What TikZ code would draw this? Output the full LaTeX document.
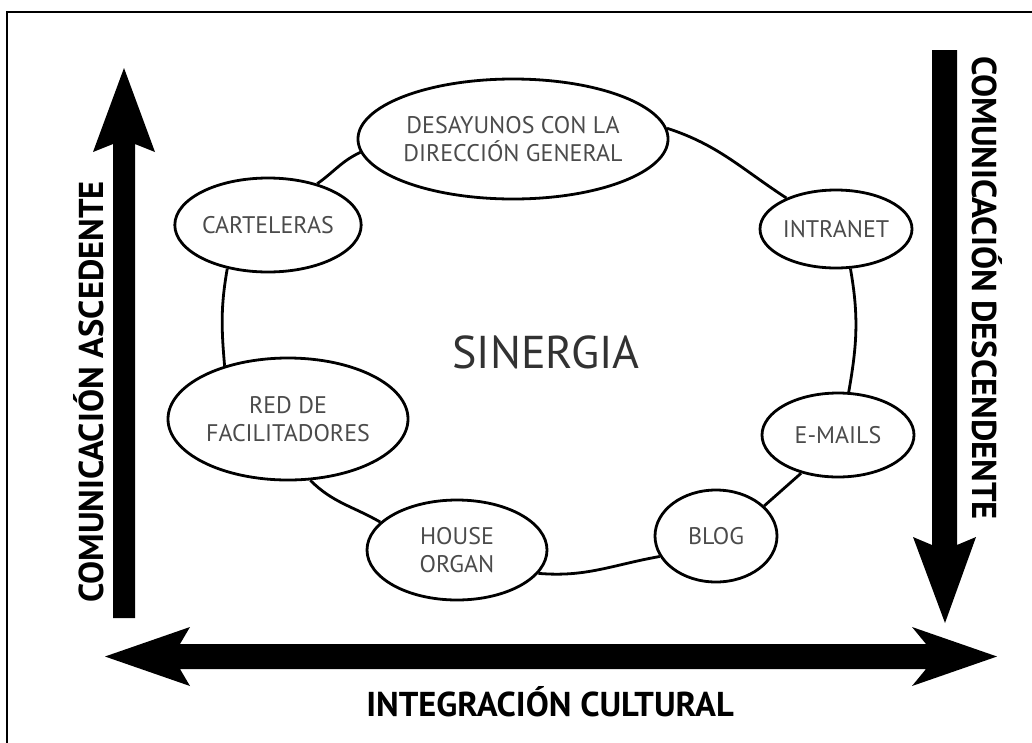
\documentclass[tikz,border=0pt]{standalone}
\usepackage{fontspec}
\setmainfont{PT Sans}
\usetikzlibrary{shapes.geometric}
\definecolor{labgray}{RGB}{75,75,75}
\definecolor{biggray}{RGB}{50,50,50}
\begin{document}
\begin{tikzpicture}[x=1pt,y=1pt,
  bub/.style={ellipse, draw, line width=2.8pt, fill=white, inner sep=0pt, align=center,
    text=labgray, font=\fontsize{24}{28}\selectfont},
  ringline/.style={line width=2.8pt},
  boldlab/.style={font=\bfseries\fontsize{34.5}{38}\selectfont, inner sep=0pt, text=black},
  bigarrow/.style={fill=black}]
\useasboundingbox (0,0) rectangle (1032,-742);
\draw[line width=1.3pt] (7,-12) rectangle (1050,-760);

% bubbles
\node[bub, minimum width=292pt, minimum height=120pt] (desa) at (513,-139) {DESAYUNOS CON LA\\DIRECCIÓN GENERAL};
\node[bub, minimum width=176pt, minimum height=94pt] (cart) at (268,-225) {CARTELERAS};
\node[bub, minimum width=152pt, minimum height=78pt] (intra) at (836,-229) {INTRANET};
\node[bub, minimum width=240pt, minimum height=122pt] (red) at (288,-419) {RED DE\\FACILITADORES};
\node[bub, minimum width=152pt, minimum height=84pt] (emails) at (838,-435) {E-MAILS};
\node[bub, minimum width=122pt, minimum height=92pt] (blog) at (716,-536) {BLOG};
\node[bub, minimum width=180pt, minimum height=100pt] (house) at (457,-550) {HOUSE\\ORGAN};
\node[text=biggray, font=\fontsize{46}{52}\selectfont, inner sep=0pt] (sin) at (546,-352) {SINERGIA};

% ring connectors
\draw[ringline] (cart.40) to[out=35,in=205] (desa.185);
\draw[ringline] (desa.4) to[out=-18,in=147] (intra.148);
\draw[ringline] (intra.-70) to[out=-80,in=80] (emails.76);
\draw[ringline] (emails.226) -- (blog.32);
\draw[ringline] (blog.200) to[out=190,in=-5] (house.-16);
\draw[ringline] (house.160) to[out=150,in=-45] (red.-70);
\draw[ringline] (red.140) to[out=95,in=-100] (cart.227);

% big arrows
\fill[bigarrow] (113,-618) -- (113,-144) -- (93,-152) -- (124,-68) -- (155,-152) -- (135,-144) -- (135,-618) -- cycle;
\fill[bigarrow] (932,-50) -- (932,-545) -- (913,-537) -- (945,-623) -- (976,-537) -- (957,-545) -- (957,-50) -- cycle;
\fill[bigarrow] (180,-644) -- (926,-644) -- (912,-627) -- (997,-656.5) -- (912,-686) -- (926,-669)
  -- (180,-669) -- (190,-686) -- (105,-656.5) -- (190,-627) -- cycle;

% axis labels
\node[boldlab, rotate=90] (asc) at (89,-392) {COMUNICACIÓN ASCEDENTE};
\node[boldlab, rotate=-90] (desc) at (987,-288) {COMUNICACIÓN DESCENDENTE};
\node[boldlab] (integ) at (550,-702) {INTEGRACIÓN CULTURAL};
\end{tikzpicture}
\end{document}
